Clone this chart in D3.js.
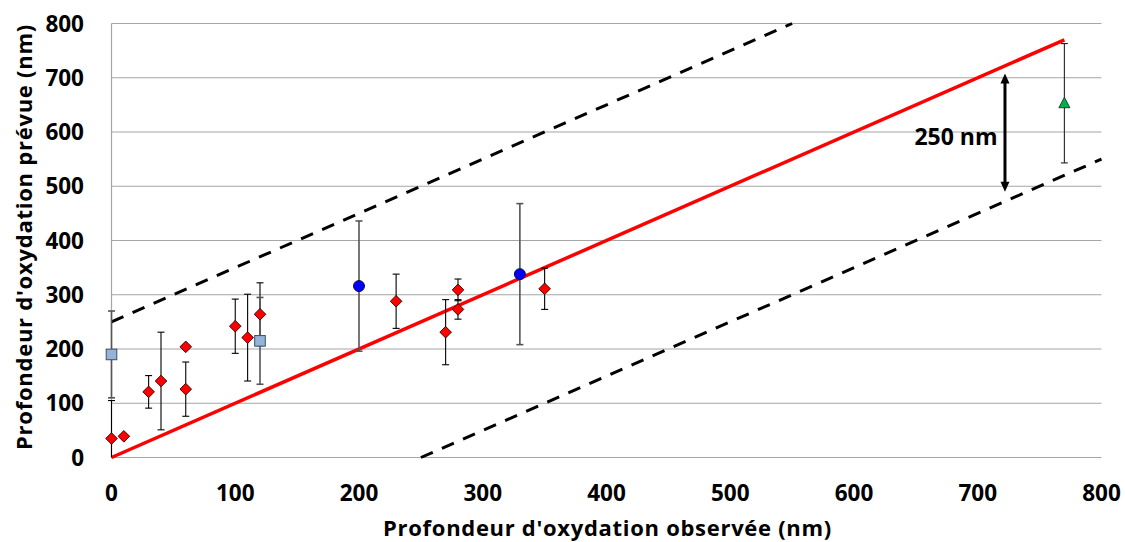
<!DOCTYPE html>
<html><head><meta charset="utf-8">
<script src="https://cdn.jsdelivr.net/npm/d3@7"></script>
<style>body{margin:0;background:#fff}svg{display:block}text{font-family:"Open Sans",sans-serif;font-weight:bold;fill:#000}</style>
</head><body>
<script>
// ---- data ----
const xTicks = [0,100,200,300,400,500,600,700,800];
const yTicks = [0,100,200,300,400,500,600,700,800];
const diamondX = [0, 10, 30, 40, 60, 60, 100, 110, 120, 230, 270, 280, 280, 350];
const diamondY = [35, 39, 121, 141, 204, 126, 242, 221, 264, 288, 231, 309, 273, 311];
const diamondErr = [70, 0, 30, 90, 0, 50, 50, 80, 58, 50, 60, 20, 18, 38];
const squareX = [0, 120];
const squareY = [190, 215];
const squareErr = [80, 80];
const circleX = [200, 330];
const circleY = [316, 338];
const circleErr = [120, 130];
const triangleX = [770];
const triangleY = [653];
const triangleErr = [110];
const identityLine = [[0,0],[770,770]];
const upperLine = [[0,250],[550,800]];
const lowerLine = [[250,0],[800,550]];
const arrowX = 722, arrowTop = 708, arrowBottom = 490;
const arrowLabel = "250 nm";
const xTitle = "Profondeur d'oxydation observée (nm)";
const yTitle = "Profondeur d'oxydation prévue (nm)";

const W = 1125, H = 542;
const svg = d3.select("body").append("svg").attr("width", W).attr("height", H);
const x = d3.scaleLinear().domain([0,800]).range([111.5,1101.5]);
const y = d3.scaleLinear().domain([0,800]).range([457.5,23.5]);

// grid
svg.append("g").selectAll("line").data(yTicks).join("line")
  .attr("x1", x(0)).attr("x2", x(800)).attr("y1", d=>y(d)).attr("y2", d=>y(d))
  .attr("stroke", "#a6a6a6").attr("stroke-width", 1.2);
svg.append("line").attr("x1", x(0)).attr("x2", x(0)).attr("y1", y(0)).attr("y2", y(800))
  .attr("stroke", "#a6a6a6").attr("stroke-width", 1.2);

// y tick labels
svg.append("g").selectAll("text").data(yTicks).join("text")
  .attr("x", 84).attr("y", d=>y(d)).attr("dy", "0.36em").attr("text-anchor","end")
  .style("font-size","22.5px").text(d=>d);
// x tick labels
svg.append("g").selectAll("text").data(xTicks).join("text")
  .attr("x", d=>x(d)).attr("y", 501).attr("text-anchor","middle")
  .style("font-size","22.5px").text(d=>d);

// titles
svg.append("text").attr("x", (x(0)+x(800))/2 + 1).attr("y", 536).attr("text-anchor","middle")
  .style("font-size","22px").style("letter-spacing","0.7px").text(xTitle);
svg.append("text").attr("transform", `translate(32,${237}) rotate(-90)`).attr("text-anchor","middle")
  .style("font-size","22px").style("letter-spacing","0.75px").text(yTitle);

const line = d3.line().x(d=>x(d[0])).y(d=>y(d[1]));
// dashed bounds
[upperLine, lowerLine].forEach(l => {
  svg.append("path").attr("d", line(l)).attr("fill","none").attr("stroke","#000")
    .attr("stroke-width", 3).attr("stroke-dasharray","13,10");
});
// identity
svg.append("path").attr("d", line(identityLine)).attr("fill","none").attr("stroke","#ff0000").attr("stroke-width", 3.5);

// error bars
function errBars(xs, ys, es, color, sw) {
  const g = svg.append("g").attr("stroke", color).attr("stroke-width", sw);
  xs.forEach((xv,i) => {
    if (!es[i]) return;
    const top = y(ys[i]+es[i]), bot = y(Math.max(0, ys[i]-es[i]));
    g.append("line").attr("x1",x(xv)).attr("x2",x(xv)).attr("y1",top).attr("y2",bot);
    g.append("line").attr("x1",x(xv)-3.5).attr("x2",x(xv)+3.5).attr("y1",top).attr("y2",top);
    if (ys[i]-es[i] > 0)
      g.append("line").attr("x1",x(xv)-3.5).attr("x2",x(xv)+3.5).attr("y1",bot).attr("y2",bot);
  });
}
errBars(diamondX, diamondY, diamondErr, "#000", 1.1);
errBars(squareX, squareY, squareErr, "#555", 1.6);
errBars(circleX, circleY, circleErr, "#555", 1.6);
errBars(triangleX, triangleY, triangleErr, "#222", 1.1);

// markers
svg.append("g").selectAll("path").data(diamondX.map((d,i)=>[d,diamondY[i]])).join("path")
  .attr("d", d=>{const cx=x(d[0]), cy=y(d[1]), r=5.8; return `M${cx},${cy-r}L${cx+r},${cy}L${cx},${cy+r}L${cx-r},${cy}Z`;})
  .attr("fill","#ff0000").attr("stroke","#2a0000").attr("stroke-width",0.9);
svg.append("g").selectAll("rect").data(squareX.map((d,i)=>[d,squareY[i]])).join("rect")
  .attr("x", d=>x(d[0])-5.3).attr("y", d=>y(d[1])-5.3).attr("width",10.6).attr("height",10.6)
  .attr("fill","#95b3d7").attr("stroke","#3b4f68").attr("stroke-width",1);
svg.append("g").selectAll("circle").data(circleX.map((d,i)=>[d,circleY[i]])).join("circle")
  .attr("cx", d=>x(d[0])).attr("cy", d=>y(d[1])).attr("r",5.5)
  .attr("fill","#0000ff").attr("stroke","#101040").attr("stroke-width",1);
svg.append("g").selectAll("path").data(triangleX.map((d,i)=>[d,triangleY[i]])).join("path")
  .attr("d", d=>{const cx=x(d[0]), cy=y(d[1]); return `M${cx},${cy-6}L${cx+5.5},${cy+4.5}L${cx-5.5},${cy+4.5}Z`;})
  .attr("fill","#00b050").attr("stroke","#0a3a1a").attr("stroke-width",0.9);

// arrow
const ax = x(arrowX), at = y(arrowTop), ab = y(arrowBottom);
svg.append("line").attr("x1",ax).attr("x2",ax).attr("y1",at+8).attr("y2",ab-8)
  .attr("stroke","#000").attr("stroke-width",3);
svg.append("path").attr("d",`M${ax},${at}L${ax+4.5},${at+10}L${ax-4.5},${at+10}Z`).attr("fill","#000");
svg.append("path").attr("d",`M${ax},${ab}L${ax+4.5},${ab-10}L${ax-4.5},${ab-10}Z`).attr("fill","#000");
svg.append("text").attr("x", ax-49).attr("y", 145).attr("text-anchor","middle")
  .style("font-size","23px").text(arrowLabel);
</script>
</body></html>
